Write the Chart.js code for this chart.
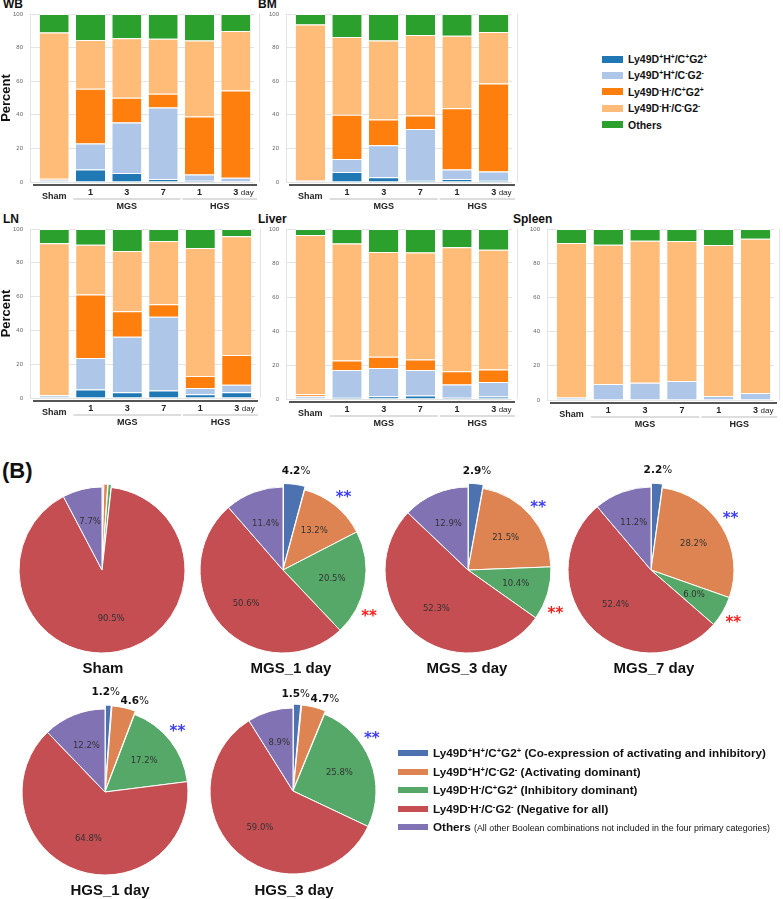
<!DOCTYPE html>
<html>
<head>
<meta charset="utf-8">
<script src="https://cdn.jsdelivr.net/npm/chart.js@4.4.0/dist/chart.umd.min.js"></script>
<style>
  html, body { margin: 0; background: #fff; }
  #page { position: relative; width: 783px; height: 899px; overflow: hidden; font-family: "Liberation Sans", Arial, sans-serif; color: #111; }
  #page canvas { position: absolute; }
  .ttl { position: absolute; font-weight: bold; font-size: 12px; line-height: 14px; }
  .ptitle { position: absolute; font-weight: bold; font-size: 15px; line-height: 18px; width: 160px; margin-left: -80px; text-align: center; }
  .legend { position: absolute; }
  .legend .row { position: relative; white-space: nowrap; font-weight: bold; }
  .legend .sw { position: absolute; left: 0; }
  .legend sup { font-size: 65%; line-height: 0; vertical-align: 0.55em; }
  .note { font-weight: normal; }
</style>
</head>
<body>
<div id="page">
  <div class="ttl" style="left:3px;top:-3px">WB</div>
  <div class="ttl" style="left:258px;top:-3px">BM</div>
  <div class="ttl" style="left:3px;top:212px">LN</div>
  <div class="ttl" style="left:258px;top:212px">Liver</div>
  <div class="ttl" style="left:513px;top:212px">Spleen</div>
  <canvas id="cWB" width="262" height="214" style="left:0;top:0"></canvas>
  <canvas id="cBM" width="256" height="214" style="left:262px;top:0"></canvas>
  <canvas id="cLN" width="262" height="214" style="left:0;top:214px"></canvas>
  <canvas id="cLiver" width="256" height="214" style="left:262px;top:214px"></canvas>
  <canvas id="cSpleen" width="261" height="214" style="left:522px;top:214px"></canvas>
  <div id="legendA" class="legend" style="left:602px;top:51px"></div>

  <div style="position:absolute;left:2px;top:458px;font-weight:bold;font-size:22px;line-height:26px">(B)</div>
  <canvas id="pSham" width="240" height="240" style="left:-18px;top:450px"></canvas>
  <canvas id="pM1" width="240" height="240" style="left:163px;top:450px"></canvas>
  <canvas id="pM3" width="240" height="240" style="left:348px;top:450px"></canvas>
  <canvas id="pM7" width="240" height="240" style="left:531px;top:450px"></canvas>
  <canvas id="pH1" width="240" height="240" style="left:-15px;top:672px"></canvas>
  <canvas id="pH3" width="240" height="240" style="left:173px;top:671px"></canvas>
  <div class="ptitle" style="left:103px;top:659px">Sham</div>
  <div class="ptitle" style="left:291px;top:659px">MGS_1 day</div>
  <div class="ptitle" style="left:467px;top:659px">MGS_3 day</div>
  <div class="ptitle" style="left:654px;top:659px">MGS_7 day</div>
  <div class="ptitle" style="left:110px;top:881px">HGS_1 day</div>
  <div class="ptitle" style="left:294px;top:881px">HGS_3 day</div>
  <div id="legendB" class="legend" style="left:398px;top:744px"></div>
</div>
<script>
Chart.defaults.font.family = '"Liberation Sans", Arial, sans-serif';

// ---- (A) stacked bars ----
const barCategories = ['Sham', '1', '3', '7', '1', '3'];
const barUnit = 'day';
const barGroups = [
  {label: 'MGS', from: 1, to: 3},
  {label: 'HGS', from: 4, to: 5},
];
const barSeriesNames = [
  'Ly49D<sup>+</sup>H<sup>+</sup>/C<sup>+</sup>G2<sup>+</sup>',
  'Ly49D<sup>+</sup>H<sup>+</sup>/C<sup>-</sup>G2<sup>-</sup>',
  'Ly49D<sup>-</sup>H<sup>-</sup>/C<sup>+</sup>G2<sup>+</sup>',
  'Ly49D<sup>-</sup>H<sup>-</sup>/C<sup>-</sup>G2<sup>-</sup>',
  'Others',
];
const barColors = ['#1f77b4', '#aec7e8', '#ff7f0e', '#ffbb78', '#2ca02c'];

// one row per series, one column per category
const wbValues = [
  [0, 7.4, 5.4, 1.8, 0.8, 0.3],
  [1.5, 15.5, 30, 42.5, 3.6, 2.3],
  [0.5, 32.6, 14.7, 8.2, 34.6, 51.9],
  [87, 29, 35.4, 32.8, 45.3, 35.4],
  [11, 15.5, 14.5, 14.7, 15.7, 10.1],
];
const bmValues = [
  [0, 6, 2.8, 1.2, 1.8, 1.2],
  [0.5, 7.7, 19.1, 30.4, 5.6, 5],
  [0.5, 26.3, 15.3, 8, 36.5, 52.4],
  [92.8, 46.3, 47.1, 47.9, 43.2, 30.7],
  [6.2, 13.7, 15.7, 12.5, 12.9, 10.7],
];
const lnValues = [
  [0, 5.1, 3.4, 4.5, 2.2, 3.4],
  [1.6, 18.6, 32.9, 43.6, 3.7, 4.5],
  [0.2, 37.6, 15, 7.3, 7.1, 17.5],
  [89.7, 29.4, 35.7, 37.5, 75.8, 70.3],
  [8.5, 9.3, 13, 7.1, 11.2, 4.3],
];
const liverValues = [
  [0.3, 1.2, 1.6, 2, 0.8, 1.4],
  [1.3, 15.9, 16.7, 15.1, 7.7, 8.6],
  [1.2, 5.5, 6.5, 6.1, 7.8, 7.3],
  [93.7, 68.9, 61.6, 63, 72.9, 70.5],
  [3.5, 8.5, 13.6, 13.8, 10.8, 12.2],
];
const spleenValues = [
  [0, 0, 0, 0, 0, 0],
  [1.4, 9.4, 10.1, 11.1, 2.3, 4.1],
  [0, 0, 0, 0, 0, 0],
  [90.4, 81.4, 83.1, 81.9, 88.3, 90.2],
  [8.2, 9.2, 6.8, 7, 9.4, 5.7],
];

// ---- (B) pies ----
const pieNames = barSeriesNames;
const pieNotes = [
  '(Co-expression of activating and inhibitory)',
  '(Activating dominant)',
  '(Inhibitory dominant)',
  '(Negative for all)',
  '(All other Boolean combinations not included in the four primary categories)',
];
const pieColors = ['#4c72b0', '#dd8452', '#55a868', '#c44e52', '#8172b3'];
const shamPie = [0.3, 0.8, 0.7, 90.5, 7.7];
const mgs1Pie = [4.2, 13.2, 20.5, 50.6, 11.4];
const mgs3Pie = [2.9, 21.5, 10.4, 52.3, 12.9];
const mgs7Pie = [2.2, 28.2, 6.0, 52.4, 11.2];
const hgs1Pie = [1.2, 4.6, 17.2, 64.8, 12.2];
const hgs3Pie = [1.5, 4.7, 25.8, 59.0, 8.9];

// group labels, offset spine and the unit under the x axis
const groupAxisPlugin = {
  id: 'groupAxis',
  afterDraw(chart) {
    const {ctx, chartArea: area, scales: {x}} = chart;
    const half = (x.getPixelForValue(1) - x.getPixelForValue(0)) / 2;
    const last = barCategories.length - 1;
    ctx.save();
    ctx.strokeStyle = '#e4e4e4';
    ctx.lineWidth = 1;
    ctx.beginPath();
    ctx.moveTo(area.right + 5.5, area.top);
    ctx.lineTo(area.right + 5.5, area.bottom);
    ctx.moveTo(area.left - 5.5, area.top);
    ctx.lineTo(area.left - 5.5, area.bottom);
    ctx.stroke();
    ctx.strokeStyle = '#555';
    ctx.lineWidth = 2;
    ctx.beginPath();
    ctx.moveTo(area.left - 3, area.bottom + 3);
    ctx.lineTo(area.right + 3, area.bottom + 3);
    ctx.stroke();
    ctx.textAlign = 'center';
    ctx.textBaseline = 'middle';
    ctx.fillStyle = '#222';
    ctx.font = 'bold 9px "Liberation Sans", Arial, sans-serif';
    for (const g of barGroups) {
      const x0 = x.getPixelForValue(g.from) - half + 1;
      const x1 = x.getPixelForValue(g.to) + half + (g.to === last ? 3 : -1);
      ctx.strokeStyle = '#d2d2d2';
      ctx.lineWidth = 1.5;
      ctx.beginPath();
      ctx.moveTo(x0, area.bottom + 17);
      ctx.lineTo(x1, area.bottom + 17);
      ctx.stroke();
      ctx.fillText(g.label, (x0 + x1) / 2, area.bottom + 24.5);
    }
    ctx.textAlign = 'left';
    ctx.font = '8px "Liberation Sans", Arial, sans-serif';
    ctx.fillText(barUnit, x.getPixelForValue(last) + 5, area.bottom + 10.5);
    ctx.restore();
  }
};

function makeBarChart(id, values, o) {
  const canvas = document.getElementById(id);
  new Chart(canvas, {
    type: 'bar',
    data: {
      labels: barCategories,
      datasets: values.map((row, i) => ({
        label: barSeriesNames[i],
        data: row,
        backgroundColor: barColors[i],
        borderColor: '#ffffff',
        borderWidth: {top: 1, right: 0, bottom: 0, left: 0},
        barPercentage: 0.8,
        categoryPercentage: 1,
      })),
    },
    options: {
      responsive: false,
      animation: false,
      layout: {padding: {top: o.top, right: o.right, left: 0, bottom: 0}},
      scales: {
        x: {
          stacked: true,
          grid: {display: false, drawTicks: false},
          border: {display: false},
          ticks: {
            color: '#222',
            padding: 5.5,
            font: (c) => ({size: 9, weight: 'bold', lineHeight: c.index === 0 ? 2.1 : 1.2}),
          },
          afterFit: (s) => { s.height = canvas.height - o.top - o.plotH; },
        },
        y: {
          stacked: true,
          min: 0,
          max: 100,
          ticks: {stepSize: 20, color: '#666', padding: 7, font: {size: 6}},
          grid: {color: '#e4e4e4', tickLength: 6, tickColor: '#e4e4e4'},
          border: {display: false},
          title: {
            display: !!o.yTitle,
            text: 'Percent',
            color: '#111',
            font: {size: 13, weight: 'bold', lineHeight: 1},
            padding: {top: 0, bottom: 0},
          },
          afterFit: (s) => { s.width = o.yw; },
        },
      },
      plugins: {legend: {display: false}, tooltip: {enabled: false}},
    },
    plugins: [groupAxisPlugin],
  });
}

makeBarChart('cWB', wbValues, {top: 14, right: 8, plotH: 168, yw: 36, yTitle: true});
makeBarChart('cBM', bmValues, {top: 14, right: 6, plotH: 168, yw: 30});
makeBarChart('cLN', lnValues, {top: 15, right: 7, plotH: 169, yw: 36, yTitle: true});
makeBarChart('cLiver', liverValues, {top: 15, right: 6, plotH: 170, yw: 30});
makeBarChart('cSpleen', spleenValues, {top: 15, right: 9, plotH: 171, yw: 31});

// percent labels inside/outside slices and the ** significance marks
// (settings kept in a closure so Chart.js does not proxy them)
function pieTextPlugin(outside, marks) {
  return {
    id: 'pieText',
    afterDatasetsDraw(chart) {
      const {ctx} = chart;
      const arcs = chart.getDatasetMeta(0).data;
      const values = chart.data.datasets[0].data;
      ctx.save();
      ctx.textBaseline = 'middle';
      arcs.forEach((arc, i) => {
        const mid = (arc.startAngle + arc.endAngle) / 2;
        const r = arc.outerRadius;
        const out = outside.find((d) => d.index === i);
        if (out) {
          const px = arc.x + Math.cos(mid) * r * 1.2 + (out.dx || 0);
          const py = arc.y + Math.sin(mid) * r * 1.2 + (out.dy || 0);
          const num = values[i].toFixed(1);
          const bold = 'bold 10.5px "DejaVu Sans", sans-serif';
          const norm = '10.5px "DejaVu Sans", sans-serif';
          ctx.font = bold;
          const w1 = ctx.measureText(num).width;
          ctx.font = norm;
          const w2 = ctx.measureText('%').width;
          const left = px - (w1 + w2) / 2;
          ctx.textAlign = 'left';
          ctx.fillStyle = '#111';
          ctx.font = bold;
          ctx.fillText(num, left, py);
          ctx.font = norm;
          ctx.fillText('%', left + w1, py);
        } else if (values[i] >= 5) {
          ctx.textAlign = 'center';
          ctx.font = '8.5px "DejaVu Sans", sans-serif';
          ctx.fillStyle = '#333';
          ctx.fillText(values[i].toFixed(1) + '%', arc.x + Math.cos(mid) * r * 0.6, arc.y + Math.sin(mid) * r * 0.6);
        }
      });
      ctx.textAlign = 'center';
      ctx.font = 'bold 15px "DejaVu Sans", sans-serif';
      for (const m of marks) {
        const arc = arcs[m.index];
        const a = arc.startAngle + (arc.endAngle - arc.startAngle) * m.at;
        const d = arc.outerRadius * 1.16;
        ctx.fillStyle = m.color;
        ctx.fillText('**', arc.x + Math.cos(a) * d, arc.y + Math.sin(a) * d + 3.5);
      }
      ctx.restore();
    }
  };
}

const starBlue = '#3c3cff';
const starRed = '#ff1c1c';

function makePie(id, values, offsets, outside, marks) {
  new Chart(document.getElementById(id), {
    type: 'pie',
    data: {
      labels: pieNames,
      datasets: [{
        data: values,
        backgroundColor: pieColors,
        borderColor: '#ffffff',
        borderWidth: 1,
        offset: offsets,
      }],
    },
    options: {
      responsive: false,
      animation: false,
      radius: 83,
      plugins: {legend: {display: false}, tooltip: {enabled: false}},
    },
    plugins: [pieTextPlugin(outside, marks)],
  });
}

makePie('pSham', shamPie, [6, 6, 6, 0, 0], [], []);
makePie('pM1', mgs1Pie, [8, 0, 0, 0, 0], [{index: 0}],
  [{index: 1, color: starBlue, at: 0.5}, {index: 2, color: starRed, at: 0.73}]);
makePie('pM3', mgs3Pie, [8, 0, 0, 0, 0], [{index: 0}],
  [{index: 1, color: starBlue, at: 0.47}, {index: 2, color: starRed, at: 0.72}]);
makePie('pM7', mgs7Pie, [8, 0, 0, 0, 0], [{index: 0}],
  [{index: 1, color: starBlue, at: 0.47}, {index: 2, color: starRed, at: 0.55}]);
makePie('pH1', hgs1Pie, [8, 8, 0, 0, 0], [{index: 0, dx: -3}, {index: 1, dx: 8, dy: 6}],
  [{index: 2, color: starBlue, at: 0.45}]);
makePie('pH3', hgs3Pie, [8, 8, 0, 0, 0], [{index: 0, dx: -2, dy: 3}, {index: 1, dx: 8, dy: 5}],
  [{index: 2, color: starBlue, at: 0.35}]);

// HTML legends
function buildLegend(el, names, colors, notes, s) {
  el.innerHTML = names.map((n, i) => {
    const isOther = i === names.length - 1;
    const note = notes ? (isOther
      ? ` <span class="note" style="font-size:${s.otherNote}px">${notes[i]}</span>`
      : ` <span>${notes[i]}</span>`) : '';
    return `<div class="row" style="height:${s.rowH}px;line-height:${s.rowH}px;padding-left:${s.textX}px;font-size:${s.font}px">` +
      `<span class="sw" style="top:${(s.rowH - s.boxH) / 2}px;width:${s.boxW}px;height:${s.boxH}px;background:${colors[i]}"></span>` +
      `${n}${note}</div>`;
  }).join('');
}
buildLegend(document.getElementById('legendA'), barSeriesNames, barColors, null,
  {rowH: 16.4, boxW: 21, boxH: 7, textX: 26, font: 10.5});
buildLegend(document.getElementById('legendB'), pieNames, pieColors, pieNotes,
  {rowH: 18.5, boxW: 30, boxH: 6, textX: 35, font: 11.7, otherNote: 8.9});
</script>
</body>
</html>
